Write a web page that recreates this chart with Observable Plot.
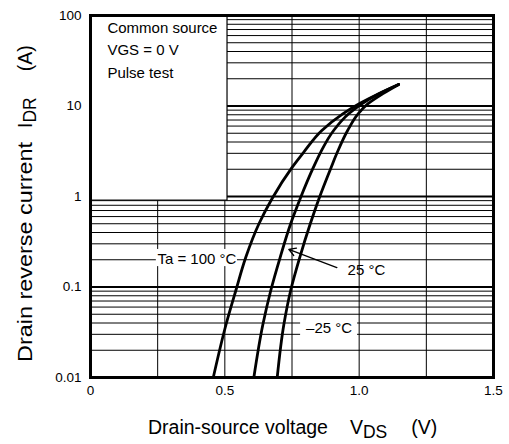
<!DOCTYPE html>
<html><head><meta charset="utf-8">
<script src="https://cdn.jsdelivr.net/npm/d3@7"></script>
<script src="https://cdn.jsdelivr.net/npm/@observablehq/plot@0.6"></script>
<style>
body{margin:0;background:#fff;}
#chart svg{font-family:"Liberation Sans",Arial,Helvetica,sans-serif;}
</style>
</head><body><div id="chart"></div>
<script>
// Drain reverse current IDR (A) levels where curves were read
const idrLevels = [0.01, 0.039, 0.0915, 0.213, 0.5, 0.94, 2.11, 3.1, 5.36, 8.2, 10.6, 13.6, 17.3];
// Drain-source voltage VDS (V) for each temperature
const vdsTa100 = [0.457, 0.505, 0.541, 0.578, 0.627, 0.675, 0.751, 0.794, 0.861, 0.939, 1.000, 1.071, 1.147];
const vdsTa25  = [0.608, 0.642, 0.671, 0.706, 0.745, 0.780, 0.830, 0.857, 0.905, 0.961, 1.010, 1.072, 1.147];
const vdsTaM25 = [0.695, 0.720, 0.745, 0.779, 0.818, 0.850, 0.896, 0.919, 0.957, 0.996, 1.033, 1.087, 1.147];
const seriesNames = ["100", "25", "-25"];

const xTicks = [0, 0.5, 1.0, 1.5];
const xTickLabels = ["0", "0.5", "1.0", "1.5"];
const yTicks = [0.01, 0.1, 1, 10, 100];
const yTickLabels = ["0.01", "0.1", "1", "10", "100"];
const xGrid = [0.25, 0.5, 0.75, 1.0, 1.25];
const yGridMajor = [0.1, 1, 10];
const yGridMinor = [0.02,0.03,0.04,0.05,0.06,0.07,0.08,0.09,
                    0.2,0.3,0.4,0.5,0.6,0.7,0.8,0.9,
                    2,3,4,5,6,7,8,9,
                    20,30,40,50,60,70,80,90];

const curveRows = [];
[vdsTa100, vdsTa25, vdsTaM25].forEach((arr, k) => {
  arr.forEach((v, i) => curveRows.push({series: seriesNames[k], vds: v, idr: idrLevels[i]}));
});

// annotations (data coordinates)
const infoBox = [{x1: 0, x2: 0.51, y1: 0.9, y2: 100}];
const infoLines = [
  {x: 0.063, y: 72, text: "Common source"},
  {x: 0.063, y: 41, text: "VGS = 0 V"},
  {x: 0.063, y: 23, text: "Pulse test"}
];
const labelBoxes = [
  {x1: 0.245, x2: 0.547, y1: 0.168, y2: 0.26},
  {x1: 0.782, x2: 0.994, y1: 0.0263, y2: 0.046}
];
const curveLabels = [
  {x: 0.396, y: 0.205, text: "Ta = 100 °C"},
  {x: 1.027, y: 0.152, text: "25 °C"},
  {x: 0.888, y: 0.0348, text: "–25 °C"}
];
const arrows = [{x1: 0.917, y1: 0.164, x2: 0.738, y2: 0.26}];

const fmtX = d => xTickLabels[xTicks.indexOf(d)];
const fmtY = d => yTickLabels[yTicks.indexOf(d)];

const chart = Plot.plot({
  width: 509, height: 444,
  marginLeft: 90, marginRight: 16, marginTop: 15, marginBottom: 67,
  style: {background: "white", fontFamily: "Liberation Sans, Arial, sans-serif"},
  x: {domain: [0, 1.5]},
  y: {type: "log", domain: [0.01, 100]},
  marks: [
    Plot.ruleY(yGridMinor, {stroke: "#000", strokeWidth: 1}),
    Plot.ruleY(yGridMajor, {stroke: "#000", strokeWidth: 2}),
    Plot.ruleX(xGrid, {stroke: "#000", strokeWidth: 1}),
    Plot.rect(infoBox, {x1: "x1", x2: "x2", y1: "y1", y2: "y2", fill: "white", stroke: "#000", strokeWidth: 1.2}),
    Plot.rect(labelBoxes, {x1: "x1", x2: "x2", y1: "y1", y2: "y2", fill: "white"}),
    Plot.line(curveRows, {x: "vds", y: "idr", z: "series", curve: "monotone-y", stroke: "#000", strokeWidth: 2.8}),
    Plot.arrow(arrows, {x1: "x1", y1: "y1", x2: "x2", y2: "y2", stroke: "#000", strokeWidth: 1.3, headLength: 9}),
    Plot.text(infoLines, {x: "x", y: "y", text: "text", textAnchor: "start", fontSize: 15, fill: "#000"}),
    Plot.text(curveLabels, {x: "x", y: "y", text: "text", fontSize: 15, fill: "#000"}),
    Plot.axisX(xTicks, {tickSize: 0, tickPadding: 8, fontSize: 13.5, tickFormat: fmtX, label: null, color: "#000"}),
    Plot.axisY(yTicks, {tickSize: 0, tickPadding: 9, fontSize: 13.5, tickFormat: fmtY, label: null, color: "#000"}),
    Plot.frame({stroke: "#000", strokeWidth: 3})
  ]
});
document.getElementById("chart").appendChild(chart);

// Axis titles with subscripts
const svg = d3.select(chart);
const xt = svg.append("text")
  .attr("x", 148).attr("y", 434)
  .attr("text-anchor", "start")
  .attr("font-size", 19.5).attr("fill", "#000")
  .attr("font-family", "Liberation Sans, Arial, sans-serif");
xt.append("tspan").text("Drain-source voltage");
xt.append("tspan").attr("dx", 22).text("V");
xt.append("tspan").attr("dy", 4).attr("font-size", 17.5).text("DS");
xt.append("tspan").attr("dx", 24).attr("dy", -4).text("(V)");

const yt = svg.append("text")
  .attr("transform", "translate(32,362) rotate(-90)")
  .attr("x", 0).attr("y", 0)
  .attr("text-anchor", "start")
  .attr("font-size", 19.5).attr("fill", "#000")
  .attr("font-family", "Liberation Sans, Arial, sans-serif");
yt.append("tspan").attr("textLength", 220).attr("lengthAdjust", "spacingAndGlyphs").text("Drain reverse current");
yt.append("tspan").attr("dx", 14).text("I");
yt.append("tspan").attr("dy", 4).attr("font-size", 17.5).text("DR");
yt.append("tspan").attr("dx", 26).attr("dy", -4).text("(A)");
</script>
</body></html>
